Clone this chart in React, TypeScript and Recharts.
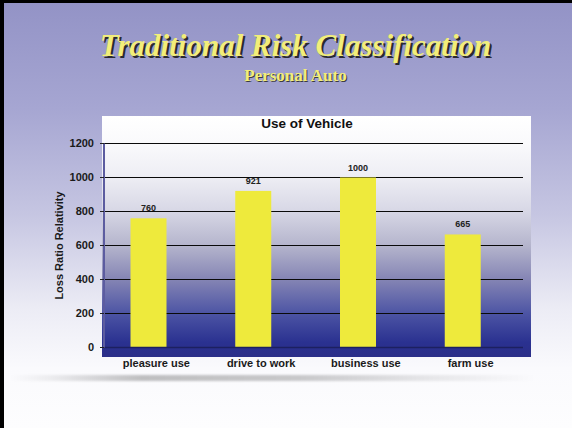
import React from 'react'
import { BarChart, Bar, XAxis, YAxis, CartesianGrid } from 'recharts'

const categories = ['pleasure use', 'drive to work', 'business use', 'farm use']
const lossRatio = [760, 921, 1000, 665]
const yTicks = [0, 200, 400, 600, 800, 1000, 1200]

const data = categories.map((name, i) => ({ name, loss: lossRatio[i] }))

const sans = '"Liberation Sans", Arial, sans-serif'
const serif = '"Liberation Serif", "Times New Roman", serif'

// bars sit a little left of the category centre, like the original slide
function OffsetBar(props: any) {
  const { x, y, width, height, payload } = props
  const bx = x - 7.5
  return (
    <g>
      <rect x={bx} y={y} width={width} height={height} fill="#eeea3c" />
      <text
        x={bx + width / 2}
        y={y - 7}
        textAnchor="middle"
        fontFamily={sans}
        fontWeight="bold"
        fontSize={9}
        fill="#222"
      >
        {payload.loss}
      </text>
    </g>
  )
}

function YLabel(props: any) {
  const { viewBox } = props
  const cx = viewBox.x + 18.5
  const cy = viewBox.y + viewBox.height / 2
  return (
    <text
      x={cx}
      y={cy}
      transform={`rotate(-90 ${cx} ${cy})`}
      textAnchor="middle"
      fontFamily={sans}
      fontWeight="bold"
      fontSize={11}
      fill="#1a1a1a"
    >
      Loss Ratio Relativity
    </text>
  )
}

export default function App() {
  const tickStyle = { fontFamily: sans, fontWeight: 'bold', fontSize: 11, fill: '#1a1a1a' }
  return (
    <div
      style={{
        position: 'absolute',
        left: 0,
        top: 0,
        width: 572,
        height: 428,
        boxSizing: 'border-box',
        borderLeft: '4px solid #000',
        borderTop: '3px solid #000',
        background:
          'linear-gradient(#9393c6 0%, #a6a6d2 25%, #c6c6e2 50%, #ececf5 72%, #fafafd 86%, #fdfdfe 100%)',
        overflow: 'hidden',
      }}
    >
      <div
        style={{
          position: 'absolute',
          left: -4,
          top: 27,
          width: 591,
          textAlign: 'center',
          fontFamily: serif,
          fontWeight: 'bold',
          fontStyle: 'italic',
          fontSize: 31,
          lineHeight: '31px',
          color: '#f2ee7a',
          textShadow: '2px 2px 0 #2a2a30',
          whiteSpace: 'nowrap',
        }}
      >
        Traditional Risk Classification
      </div>
      <div
        style={{
          position: 'absolute',
          left: -4,
          top: 63.5,
          width: 591,
          textAlign: 'center',
          fontFamily: serif,
          fontWeight: 'bold',
          fontSize: 17,
          lineHeight: '17px',
          color: '#f2ee7a',
          textShadow: '1px 1px 0 #3a3a40',
          whiteSpace: 'nowrap',
        }}
      >
        Personal Auto
      </div>

      {/* chart box with the white-to-navy fill */}
      <div
        style={{
          position: 'absolute',
          left: 98,
          top: 113,
          width: 429,
          height: 241,
          background:
            'linear-gradient(#ffffff 0%, #fafafc 11%, #eeeef4 25%, #d8d8e6 39%, #b4b4cc 54%, #8484b4 68%, #4c54a4 82%, #2a3190 94%, #2b2e88 100%)',
        }}
      />
      {/* soft shadow under the chart */}
      <div
        style={{
          position: 'absolute',
          left: 6,
          top: 372,
          width: 526,
          height: 6,
          filter: 'blur(1px)',
          background:
            'linear-gradient(to right, rgba(0,0,0,0) 0%, rgba(0,0,0,0.06) 8%, rgba(0,0,0,0.24) 25%, rgba(0,0,0,0.2) 55%, rgba(0,0,0,0.08) 80%, rgba(0,0,0,0) 100%)',
        }}
      />

      <BarChart
        width={572}
        height={428}
        data={data}
        margin={{ top: 143.5, right: 49, bottom: 50.5, left: 44 }}
        style={{ position: 'absolute', left: -4, top: -3 }}
        barSize={36}
      >
        <text
          x={307}
          y={127.5}
          textAnchor="middle"
          fontFamily={sans}
          fontWeight="bold"
          fontSize={13.5}
          fill="#111"
        >
          Use of Vehicle
        </text>
        <CartesianGrid vertical={false} stroke="#0a0a0a" strokeWidth={1} />
        <XAxis
          dataKey="name"
          height={30}
          tickLine={false}
          tickSize={0}
          tickMargin={12}
          axisLine={{ stroke: '#1c2060', strokeWidth: 1.5 }}
          tick={tickStyle}
          interval={0}
        />
        <YAxis
          width={60}
          domain={[0, 1200]}
          ticks={yTicks}
          tickSize={4}
          tickMargin={6}
          tickLine={{ stroke: '#222' }}
          axisLine={{ stroke: '#5c5ca0', strokeWidth: 2 }}
          tick={tickStyle}
          label={<YLabel />}
        />
        <Bar dataKey="loss" shape={<OffsetBar />} isAnimationActive={false} />
      </BarChart>
    </div>
  )
}
